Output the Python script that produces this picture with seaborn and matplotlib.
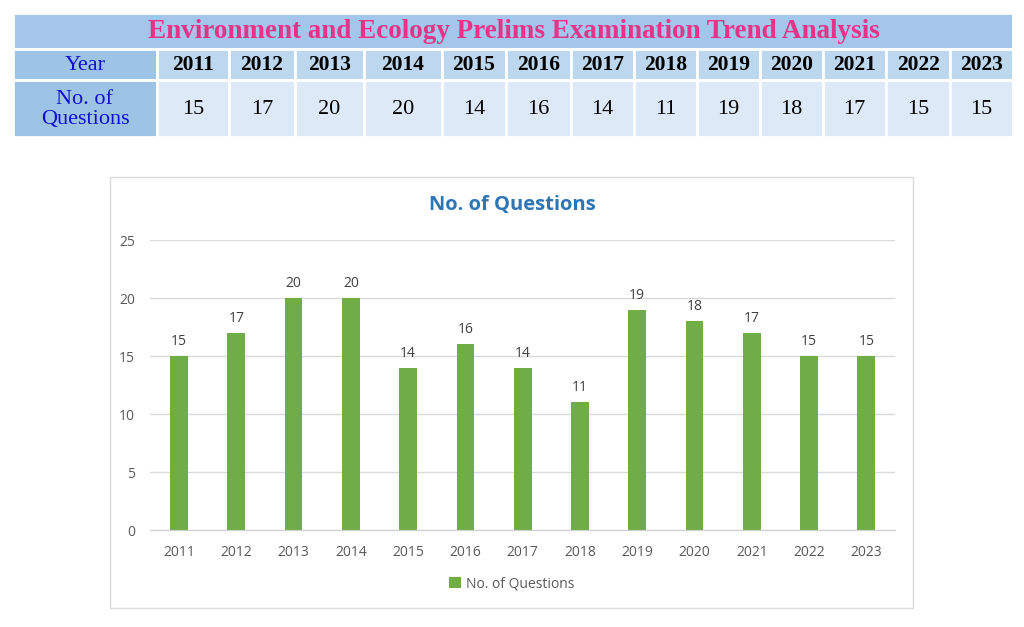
import matplotlib
matplotlib.use("Agg")
import matplotlib.pyplot as plt
import seaborn as sns
import pandas as pd
from matplotlib.patches import Rectangle

# ---- data ----
years = ["2011", "2012", "2013", "2014", "2015", "2016", "2017",
         "2018", "2019", "2020", "2021", "2022", "2023"]
questions = [15, 17, 20, 20, 14, 16, 14, 11, 19, 18, 17, 15, 15]
table_title = "Environment and Ecology Prelims Examination Trend Analysis"
row_label_year = "Year"
row_label_q = "No. of\nQuestions"
chart_title = "No. of Questions"
series_name = "No. of Questions"
y_ticks = [0, 5, 10, 15, 20, 25]

# ---- layout ----
W, H = 1024, 627
fig = plt.figure(figsize=(W / 100, H / 100), dpi=100)
fig.patch.set_facecolor("white")
sns.set_style("white")
serif = ["Liberation Serif", "DejaVu Serif"]
sans = ["Open Sans", "DejaVu Sans"]

# background/table axes in pixel coordinates
bg = fig.add_axes([0, 0, 1, 1])
bg.set_xlim(0, W)
bg.set_ylim(H, 0)
bg.axis("off")

col_edges = [13, 157, 229, 295, 364, 442, 506, 571, 634, 697, 760, 823, 886, 950, 1013]
row_edges = [13, 49, 80, 137]
sep = dict(edgecolor="white", linewidth=2)

# title row
bg.add_patch(Rectangle((col_edges[0], row_edges[0]), col_edges[-1] - col_edges[0],
                       row_edges[1] - row_edges[0], facecolor="#A4C6EA", **sep))
bg.text((col_edges[0] + col_edges[1] + col_edges[-1] - col_edges[1]) / 2 + 1,
        (row_edges[0] + row_edges[1]) / 2 + 1,
        table_title, ha="center", va="center", fontsize=19.5, fontweight="bold",
        color="#E6338A", family=serif)
# label column
bg.add_patch(Rectangle((col_edges[0], row_edges[1]), col_edges[1] - col_edges[0],
                       row_edges[2] - row_edges[1], facecolor="#9DC3E6", **sep))
bg.add_patch(Rectangle((col_edges[0], row_edges[2]), col_edges[1] - col_edges[0],
                       row_edges[3] - row_edges[2], facecolor="#9DC3E6", **sep))
bg.text((col_edges[0] + col_edges[1]) / 2, (row_edges[1] + row_edges[2]) / 2 + 1,
        row_label_year, ha="center", va="center", fontsize=16, color="#1010D0", family=serif)
bg.text((col_edges[0] + col_edges[1]) / 2, (row_edges[2] + row_edges[3]) / 2 + 1,
        row_label_q, ha="center", va="center", fontsize=16, color="#1010D0",
        family=serif, linespacing=1.1)
for i, (yr, q) in enumerate(zip(years, questions)):
    x0, x1 = col_edges[i + 1], col_edges[i + 2]
    bg.add_patch(Rectangle((x0, row_edges[1]), x1 - x0, row_edges[2] - row_edges[1],
                           facecolor="#BDD7EE", **sep))
    bg.add_patch(Rectangle((x0, row_edges[2]), x1 - x0, row_edges[3] - row_edges[2],
                           facecolor="#DDE9F6", **sep))
    bg.text((x0 + x1) / 2, (row_edges[1] + row_edges[2]) / 2 + 1, yr, ha="center",
            va="center", fontsize=15.5, fontweight="bold", color="black", family=serif)
    bg.text((x0 + x1) / 2, (row_edges[2] + row_edges[3]) / 2 + 1, str(q), ha="center",
            va="center", fontsize=16, color="black", family=serif)

# chart frame
bg.add_patch(Rectangle((110, 177), 803, 431, facecolor="white",
                       edgecolor="#D9D9D9", linewidth=1))
bg.text(512, 205, chart_title, ha="center", va="center", fontsize=14.5,
        fontweight="bold", color="#2E75B6", family=sans)

# ---- chart ----
ax = fig.add_axes([150.4 / W, 1 - 530 / H, 744.6 / W, 290 / H])
ax.set_facecolor("none")
df = pd.DataFrame({"Year": years, "Questions": questions})
sns.barplot(data=df, x="Year", y="Questions", color="#70AD47", saturation=1,
            width=0.31, ax=ax, label=series_name, linewidth=0)
ax.set_ylim(0, 25)
ax.set_xlim(-0.5, len(years) - 0.5)
ax.set_yticks(y_ticks)
ax.yaxis.grid(True, color="#D9D9D9", linewidth=1)
ax.set_axisbelow(True)
for s in ["top", "right", "left"]:
    ax.spines[s].set_visible(False)
ax.spines["bottom"].set_color("#D0D0D0")
ax.tick_params(axis="both", length=0, labelsize=10, labelcolor="#595959", pad=11)
for lbl in ax.get_xticklabels() + ax.get_yticklabels():
    lbl.set_family(sans)
ax.set_xlabel("")
ax.set_ylabel("")
for c in ax.containers:
    ax.bar_label(c, padding=5, fontsize=10, color="#404040", family=sans)

leg = ax.legend(loc="center", bbox_to_anchor=(512 / W, 1 - 584 / H),
                bbox_transform=fig.transFigure, frameon=False,
                prop={"family": sans, "size": 10}, handlelength=0.8,
                handleheight=0.8, handletextpad=0.4)
for t in leg.get_texts():
    t.set_color("#595959")

fig.savefig("out.png", dpi=100, facecolor="white")
